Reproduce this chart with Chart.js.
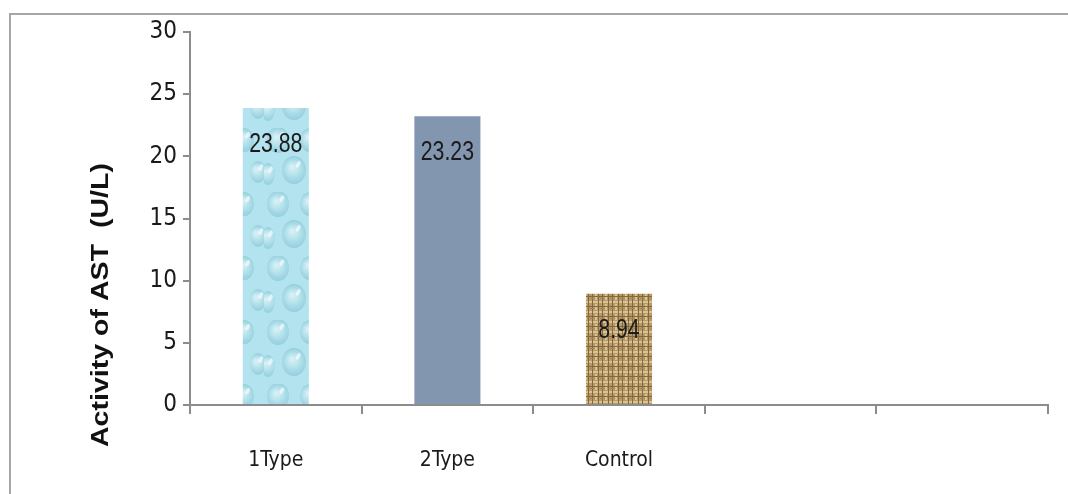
<!DOCTYPE html>
<html>
<head>
<meta charset="utf-8">
<script src="https://cdn.jsdelivr.net/npm/chart.js@4"></script>
<style>
  html, body { margin: 0; padding: 0; background: #fff; }
  #wrap { position: relative; width: 1068px; height: 494px; overflow: hidden; }
  #frame { position: absolute; left: 9px; top: 13px; width: 1100px; height: 500px;
           border-left: 2px solid #a6a6a6; border-top: 2px solid #a6a6a6; }
  canvas { position: absolute; left: 0; top: 0; }
</style>
</head>
<body>
<div id="wrap">
  <div id="frame"></div>
  <canvas id="ast" width="1068" height="494"></canvas>
</div>
<script>
// data
const groups = ['1Type', '2Type', 'Control', '', ''];
const astValues = [23.88, 23.23, 8.94, null, null];
const yTicks = [0, 5, 10, 15, 20, 25, 30];
const yTitle = 'Activity of AST  (U/L)';

const narrow = "'Liberation Sans Narrow', 'Arial Narrow', 'DejaVu Sans Condensed', sans-serif";

// water drops texture for the first bar
function dropsPattern(ctx) {
    let c = document.createElement('canvas');
    c.width = 66; c.height = 64;
    let g = c.getContext('2d');
    g.fillStyle = '#b3e3ee';
    g.fillRect(0, 0, c.width, c.height);
    let drops = [[14, 12, 11, 13], [46, 12, 10, 12], [30, 42, 12, 14], [60, 44, 8, 11], [4, 46, 7, 11]];
    drops.forEach(function(d) {
        let gr = g.createRadialGradient(d[0] - 2, d[1] - 3, 1, d[0], d[1], d[3]);
        gr.addColorStop(0, '#d6f1f6');
        gr.addColorStop(0.7, '#a5d9e6');
        gr.addColorStop(1, '#94cede');
        g.fillStyle = gr;
        g.beginPath();
        g.ellipse(d[0], d[1], d[2], d[3], 0, 0, Math.PI * 2);
        g.fill();
        g.fillStyle = 'rgba(255,255,255,0.6)';
        g.beginPath();
        g.ellipse(d[0] + d[2] * 0.35, d[1] - d[3] * 0.4, 2, 3.5, 0.5, 0, Math.PI * 2);
        g.fill();
    });
    return ctx.createPattern(c, 'repeat');
}

// burlap texture for the control bar
function burlapPattern(ctx) {
    let c = document.createElement('canvas');
    c.width = 10; c.height = 10;
    let g = c.getContext('2d');
    g.fillStyle = '#b89a68';
    g.fillRect(0, 0, 10, 10);
    g.fillStyle = '#d8c394';
    g.fillRect(0, 1, 10, 2);
    g.fillRect(5, 4, 2, 6);
    g.fillStyle = '#85673d';
    g.fillRect(2, 0, 1, 10);
    g.fillRect(8, 0, 1, 10);
    g.fillRect(0, 6, 10, 1);
    g.fillStyle = '#a3865a';
    g.fillRect(0, 8, 5, 1);
    return ctx.createPattern(c, 'repeat');
}

const valueLabels = {
    id: 'valueLabels',
    afterDatasetsDraw(chart) {
        let ctx = chart.ctx;
        let meta = chart.getDatasetMeta(0);
        ctx.save();
        ctx.font = '28px "Liberation Sans", Arial, sans-serif';
        ctx.fillStyle = '#1a1a1a';
        ctx.textAlign = 'center';
        ctx.textBaseline = 'middle';
        meta.data.forEach(function(bar, i) {
            if (astValues[i] === null) return;
            ctx.save();
            ctx.translate(bar.x, bar.y + 36);
            ctx.scale(0.76, 1);
            ctx.fillText(astValues[i].toFixed(2), 0, 0);
            ctx.restore();
        });
        ctx.restore();
    }
};

const sideTitle = {
    id: 'sideTitle',
    afterDraw(chart) {
        let ctx = chart.ctx;
        ctx.save();
        ctx.translate(102, 305);
        ctx.rotate(-Math.PI / 2);
        ctx.font = 'bold 23px "Liberation Sans", Arial, sans-serif';
        let w = ctx.measureText(yTitle).width;
        ctx.scale(284 / w, 1);
        ctx.fillStyle = '#111';
        ctx.textAlign = 'center';
        ctx.textBaseline = 'middle';
        ctx.fillText(yTitle, 0, 0);
        ctx.restore();
    }
};

let ctx = document.getElementById('ast').getContext('2d');
let barColors = [dropsPattern(ctx), '#8396b0', burlapPattern(ctx), '#fff', '#fff'];

new Chart(ctx, {
    type: 'bar',
    data: {
        labels: groups,
        datasets: [{
            data: astValues,
            backgroundColor: barColors,
            borderWidth: 0,
            categoryPercentage: 1,
            barPercentage: 0.385
        }]
    },
    options: {
        responsive: false,
        animation: false,
        layout: { padding: { left: 93, top: 32, right: 20, bottom: 0 } },
        plugins: { legend: { display: false }, tooltip: { enabled: false } },
        scales: {
            x: {
                grid: { offset: true, drawOnChartArea: false, color: '#8c8c8c', lineWidth: 2, tickLength: 9 },
                border: { color: '#8c8c8c', width: 2 },
                ticks: { color: '#1a1a1a', font: { family: narrow, size: 21 }, padding: 34, maxRotation: 0 },
                afterFit: function(s) { s.height = 494 - 405; }
            },
            y: {
                min: 0,
                max: 30,
                afterBuildTicks: function(s) { s.ticks = yTicks.map(function(v) { return { value: v }; }); },
                grid: { drawOnChartArea: false, color: '#8c8c8c', lineWidth: 2, tickLength: 7 },
                border: { color: '#8c8c8c', width: 2 },
                ticks: { color: '#1a1a1a', font: { family: narrow, size: 24 }, padding: 6 },
                afterFit: function(s) { s.width = 190 - 93; }
            }
        }
    },
    plugins: [valueLabels, sideTitle]
});
</script>
</body>
</html>
